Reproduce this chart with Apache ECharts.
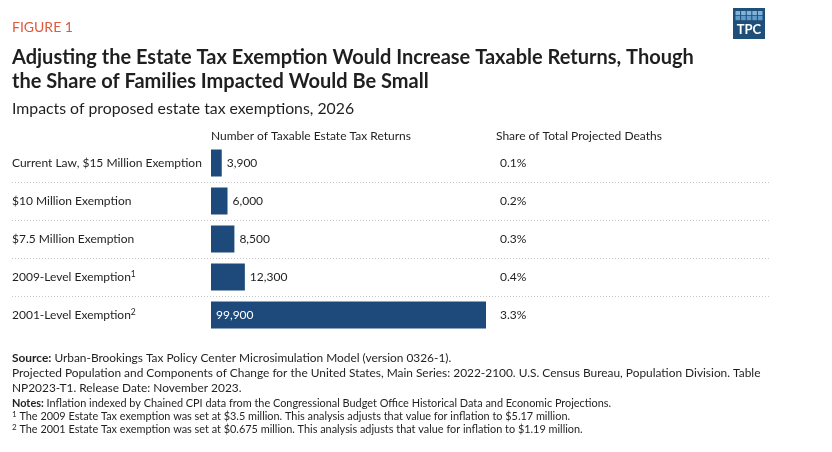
<!DOCTYPE html>
<html><head><meta charset="utf-8">
<script src="https://cdn.jsdelivr.net/npm/echarts@6/dist/echarts.min.js"></script>
<style>html,body{margin:0;padding:0;background:#fff}#c{width:832px;height:452px}</style>
</head><body><div id="c"></div>
<script>
const categories = ['Current Law, $15 Million Exemption','$10 Million Exemption','$7.5 Million Exemption','2009-Level Exemption{sup|1}','2001-Level Exemption{sup|2}'];
const returns = [3900, 6000, 8500, 12300, 99900];
const shares = ['0.1%','0.2%','0.3%','0.4%','3.3%'];

const F = 'Lato, "Noto Sans", sans-serif';
const dark = '#1f1f1f';
const barColor = '#1d4a7a';
const chart = echarts.init(document.getElementById('c'), null, {renderer:'canvas'});

const footLines = [
  {y:359, t:'{b|Source:} Urban-Brookings Tax Policy Center Microsimulation Model (version 0326-1).'},
  {y:374, t:'Projected Population and Components of Change for the United States, Main Series: 2022-2100. U.S. Census Bureau, Population Division. Table'},
  {y:389, t:'NP2023-T1. Release Date: November 2023.'}
];
const noteLines = [
  {y:405, t:'{b|Notes:} Inflation indexed by Chained CPI data from the Congressional Budget Office Historical Data and Economic Projections.'},
  {y:417, t:'{s|1} The 2009 Estate Tax exemption was set at $3.5 million. This analysis adjusts that value for inflation to $5.17 million.'},
  {y:430, t:'{s|2} The 2001 Estate Tax exemption was set at $0.675 million. This analysis adjusts that value for inflation to $1.19 million.'}
];

const graphics = [
  {type:'text', left:12, top:20, style:{text:'FIGURE 1', font:'14px '+F, fill:'#e0593b'}},
  {type:'text', left:12, top:46, style:{text:'Adjusting the Estate Tax Exemption Would Increase Taxable Returns, Though\nthe Share of Families Impacted Would Be Small', font:'bold 20px '+F, fill:dark, lineHeight:24}},
  {type:'text', left:12, top:101, style:{text:'Impacts of proposed estate tax exemptions, 2026', font:'15.8px '+F, fill:dark}},
  {type:'text', left:211, top:130, style:{text:'Number of Taxable Estate Tax Returns', font:'12px '+F, fill:dark}},
  {type:'text', left:496, top:130, style:{text:'Share of Total Projected Deaths', font:'12px '+F, fill:dark}},
  // logo
  {type:'group', left:733, top:8, children:[
    {type:'rect', shape:{x:0,y:0,width:32,height:31}, style:{fill:'#1f4e79'}},
    ...[0,1].flatMap(r=>[0,1,2,3,4].map(c=>({type:'rect', shape:{x:2.5+c*5.6,y:3+r*5,width:4.6,height:4.2}, style:{fill: r===0?'#7fb3d9':'#5f9cc9'}}))),
    {type:'text', style:{x:16, y:15.5, text:'TPC', font:'bold 13px '+F, fill:'#fff', align:'center', verticalAlign:'top'}}
  ]}
];
footLines.forEach(l=>graphics.push({type:'text', left:12, top:l.y-7, style:{text:l.t, font:'11.9px '+F, fill:dark, rich:{b:{font:'bold 11.9px '+F, fill:dark}}}}));
noteLines.forEach(l=>graphics.push({type:'text', left:12, top:l.y-7, style:{text:l.t, font:'10.9px '+F, fill:dark, rich:{b:{font:'bold 10.9px '+F, fill:dark}, s:{font:'8px '+F, fill:dark, verticalAlign:'top', padding:[0,0,4,0]}}}}));

chart.setOption({
  animation:false,
  textStyle:{fontFamily:F},
  grid:[
    {left:211, right:346, top:144, height:190, containLabel:false},
    {left:12, right:62, top:144, height:190}
  ],
  xAxis:[
    {gridIndex:0, type:'value', min:0, max:99900, show:false},
    {gridIndex:1, type:'value', min:0, max:1, show:false}
  ],
  yAxis:[
    {gridIndex:0, type:'category', data:categories, inverse:true,
     axisLine:{show:false}, axisTick:{show:false},
     axisLabel:{align:'left', margin:199, color:dark, fontSize:12, fontFamily:F,
       rich:{sup:{fontSize:8.5, verticalAlign:'top', padding:[0,0,6,0], color:dark}}}},
    {gridIndex:0, type:'category', data:shares, inverse:true, position:'right',
     axisLine:{show:false}, axisTick:{show:false},
     axisLabel:{align:'left', margin:14, color:dark, fontSize:12, fontFamily:F}},
    {gridIndex:1, type:'value', min:0, max:5, interval:1, inverse:true,
     axisLine:{show:false}, axisTick:{show:false}, axisLabel:{show:false},
     splitLine:{show:true, showMinLine:false, showMaxLine:false, lineStyle:{type:[1,2], color:'#c8c8c8', width:1}}}
  ],
  series:[{
    type:'bar', xAxisIndex:0, yAxisIndex:0, barWidth:27,
    itemStyle:{color:barColor},
    data: returns.map((v,i)=>({value:v, label: i===returns.length-1 ?
      {show:true, position:'insideLeft', color:'#fff', distance:5} :
      {show:true, position:'right', color:dark, distance:5}})),
    label:{fontSize:12, fontFamily:F, formatter:p=>p.value.toLocaleString('en-US')}
  }],
  graphic: graphics
});
</script></body></html>
